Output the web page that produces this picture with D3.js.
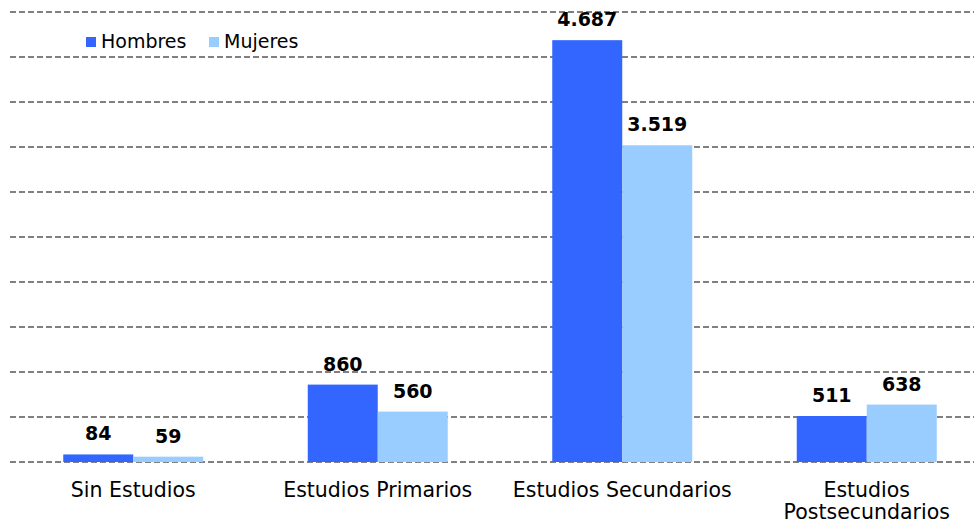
<!DOCTYPE html>
<html>
<head>
<meta charset="utf-8">
<script src="https://cdn.jsdelivr.net/npm/d3@7"></script>
<style>
  body { margin: 0; background: #fff; }
  svg { display: block; font-family: "DejaVu Sans", Verdana, sans-serif; }
</style>
</head>
<body>
<div id="chart"></div>
<script>
const categories = ['Sin Estudios', 'Estudios Primarios', 'Estudios Secundarios', 'Estudios Postsecundarios'];
const series = ['Hombres', 'Mujeres'];
const hombres = [84, 860, 4687, 511];
const mujeres = [59, 560, 3519, 638];
const yTicks = [0, 500, 1000, 1500, 2000, 2500, 3000, 3500, 4000, 4500, 5000];

const width = 974;
const height = 525;
const marginLeft = 10;
const plotRight = 989;
const marginTop = 12;
const baseline = 462;

const colors = { Hombres: '#3366ff', Mujeres: '#99ccff' };
const fmt = v => d3.format(',')(v).replace(/,/g, '.');

const svg = d3.select('#chart').append('svg')
  .attr('width', width)
  .attr('height', height);

const x0 = d3.scaleBand()
  .domain(categories)
  .range([marginLeft + 1, plotRight])
  .paddingInner(0.4274)
  .paddingOuter(0.2137);

const x1 = d3.scaleBand()
  .domain(series)
  .range([0, x0.bandwidth()]);

const y = d3.scaleLinear()
  .domain([0, 5000])
  .range([baseline, marginTop]);

// gridlines
svg.append('g')
  .selectAll('line')
  .data(yTicks)
  .enter()
  .append('line')
  .attr('x1', marginLeft)
  .attr('x2', width)
  .attr('y1', d => y(d))
  .attr('y2', d => y(d))
  .attr('stroke', '#808080')
  .attr('stroke-width', 2)
  .attr('stroke-dasharray', '6,3');

const rows = categories.map((c, i) => ({ cat: c, values: [
  { key: 'Hombres', value: hombres[i] },
  { key: 'Mujeres', value: mujeres[i] }
]}));

const groups = svg.append('g')
  .selectAll('g')
  .data(rows)
  .enter()
  .append('g')
  .attr('transform', d => `translate(${x0(d.cat)},0)`);

groups.selectAll('rect')
  .data(d => d.values)
  .enter()
  .append('rect')
  .attr('x', d => x1(d.key))
  .attr('width', x1.bandwidth())
  .attr('y', d => y(d.value))
  .attr('height', d => baseline - y(d.value))
  .attr('fill', d => colors[d.key]);

groups.selectAll('text.value')
  .data(d => d.values)
  .enter()
  .append('text')
  .attr('class', 'value')
  .attr('x', d => x1(d.key) + x1.bandwidth() / 2)
  .attr('y', d => y(d.value) - 14)
  .attr('text-anchor', 'middle')
  .style('font-size', '19px')
  .style('font-weight', 'bold')
  .text(d => fmt(d.value));

// category labels (wrap the long one)
const catLabels = svg.append('g')
  .selectAll('text')
  .data(categories)
  .enter()
  .append('text')
  .attr('x', d => x0(d) + x0.bandwidth() / 2)
  .attr('y', 497)
  .attr('text-anchor', 'middle')
  .style('font-size', '20.5px')
  .attr('fill', '#000');

catLabels.each(function (d) {
  const t = d3.select(this);
  const lines = d === 'Estudios Postsecundarios' ? ['Estudios', 'Postsecundarios'] : [d];
  lines.forEach((l, i) => {
    t.append('tspan')
      .attr('x', x0(d) + x0.bandwidth() / 2)
      .attr('dy', i === 0 ? 0 : 22)
      .text(l);
  });
});

// legend
const legend = svg.append('g').attr('id', 'legend');
const legendX = [86, 209];
series.forEach((s, i) => {
  legend.append('rect')
    .attr('x', legendX[i])
    .attr('y', 37)
    .attr('width', 10)
    .attr('height', 10)
    .attr('fill', colors[s]);
  legend.append('text')
    .attr('x', legendX[i] + 15)
    .attr('y', 47.5)
    .style('font-size', '19px')
    .text(s);
});
</script>
</body>
</html>
